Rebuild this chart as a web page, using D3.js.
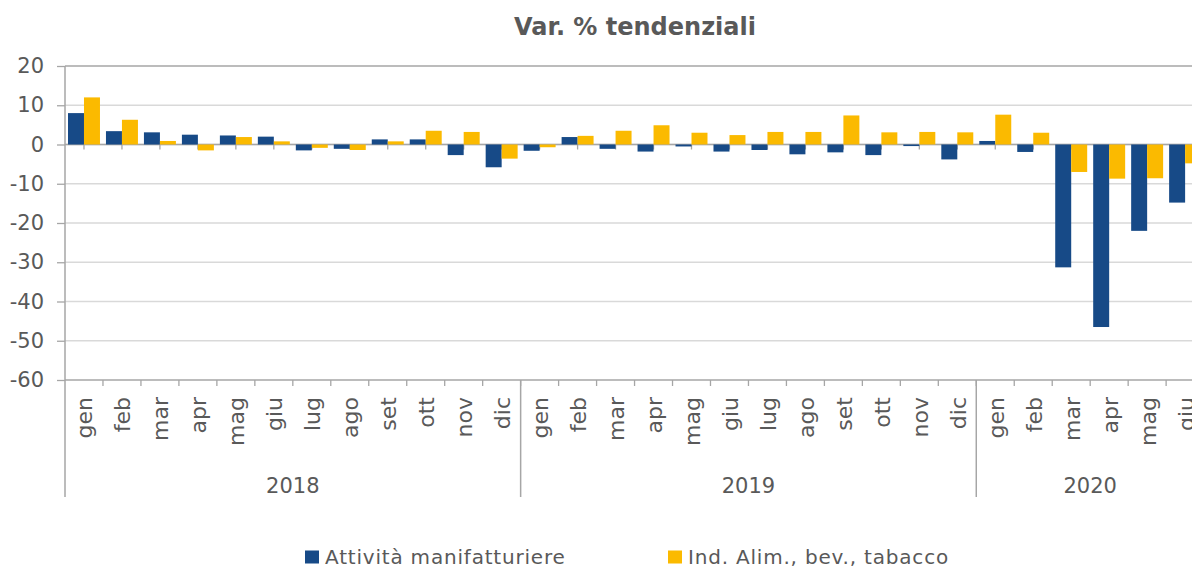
<!DOCTYPE html>
<html>
<head>
<meta charset="utf-8">
<script src="https://cdn.jsdelivr.net/npm/d3@7"></script>
<style>
  html, body { margin: 0; padding: 0; background: #fff; overflow: hidden; }
  svg { display: block; font-family: "DejaVu Sans", sans-serif; }
</style>
</head>
<body>
<svg width="1192" height="569"></svg>
<script>
// data
let years = ["2018", "2019", "2020"];
let monthsPerYear = [12, 12, 6];
let months = ["gen", "feb", "mar", "apr", "mag", "giu", "lug", "ago", "set", "ott", "nov", "dic"];
let seriesNames = ["Attività manifatturiere", "Ind. Alim., bev., tabacco"];
let manifatturiere = [
  8.0, 3.4, 3.1, 2.5, 2.3, 2.0, -1.5, -1.1, 1.3, 1.3, -2.7, -5.8,
  -1.6, 1.9, -1.1, -1.8, -0.5, -1.8, -1.4, -2.5, -2.0, -2.7, -0.4, -3.8,
  0.9, -1.9, -31.3, -46.5, -22.0, -14.8
];
let alimentari = [
  12.0, 6.3, 0.9, -1.5, 1.9, 0.8, -0.85, -1.4, 0.8, 3.5, 3.2, -3.6,
  -0.7, 2.2, 3.5, 4.9, 3.0, 2.4, 3.2, 3.2, 7.4, 3.1, 3.2, 3.1,
  7.6, 3.0, -7.0, -8.7, -8.6, -4.8
];
let yTicks = [20, 10, 0, -10, -20, -30, -40, -50, -60];
let colors = ["#174a87", "#fbba00"];

// build rows
let rows = [];
years.forEach((yr, yi) => {
  for (let m = 0; m < monthsPerYear[yi]; m++) {
    let i = rows.length;
    rows.push({ key: yr + "-" + m, year: yr, month: months[m], values: [manifatturiere[i], alimentari[i]] });
  }
});

let svg = d3.select("svg");
let plotLeft = 65, plotTop = 66, plotBottom = 380;
let step = 37.97;
let textColor = "#595959";
let axisColor = "#a6a6a6";

let x0 = d3.scaleBand()
  .domain(rows.map((d) => d.key))
  .range([plotLeft, plotLeft + step * rows.length])
  .padding(0);
let x1 = d3.scaleBand().domain([0, 1]).range([3, x0.bandwidth() - 3]).padding(0);
let y = d3.scaleLinear().domain([-60, 20]).range([plotBottom, plotTop]);

// title
svg.append("text")
  .attr("x", 635).attr("y", 35)
  .attr("text-anchor", "middle")
  .attr("font-size", 24).attr("font-weight", "bold")
  .attr("fill", textColor)
  .text("Var. % tendenziali");

// gridlines
svg.append("g").selectAll("line")
  .data(yTicks.filter((t) => t !== 20 && t !== -60))
  .enter().append("line")
  .attr("x1", plotLeft).attr("x2", 1192)
  .attr("y1", (d) => y(d)).attr("y2", (d) => y(d))
  .attr("stroke", "#d9d9d9").attr("stroke-width", 1.3);

// top border line
svg.append("line")
  .attr("x1", plotLeft).attr("x2", 1192)
  .attr("y1", y(20)).attr("y2", y(20))
  .attr("stroke", axisColor).attr("stroke-width", 1.6);

// y axis (plain hyphen for negatives, like the original)
let yAxis = svg.append("g")
  .attr("transform", "translate(" + plotLeft + ",0)")
  .call(d3.axisLeft(y).tickValues(yTicks).tickFormat((d) => String(d)).tickSize(8).tickPadding(13));
yAxis.select(".domain").remove();
yAxis.selectAll(".tick line").attr("stroke", axisColor).attr("stroke-width", 1.3);
yAxis.selectAll(".tick text")
  .attr("font-size", 21).attr("fill", textColor)
  .attr("font-family", "'DejaVu Sans', sans-serif");

// zero line with small ticks at category centres
svg.append("line")
  .attr("x1", plotLeft).attr("x2", 1192)
  .attr("y1", y(0)).attr("y2", y(0))
  .attr("stroke", axisColor).attr("stroke-width", 1.5);
svg.append("g").selectAll("line")
  .data(rows)
  .enter().append("line")
  .attr("x1", (d) => x0(d.key) + x0.bandwidth() / 2)
  .attr("x2", (d) => x0(d.key) + x0.bandwidth() / 2)
  .attr("y1", y(0)).attr("y2", y(0) + 5)
  .attr("stroke", axisColor).attr("stroke-width", 1.3);

// bars
let groups = svg.append("g").selectAll("g")
  .data(rows)
  .enter().append("g")
  .attr("transform", (d) => "translate(" + x0(d.key) + ",0)");
groups.selectAll("rect")
  .data((d) => d.values.map((v, i) => ({ v: v, i: i })))
  .enter().append("rect")
  .attr("x", (d) => x1(d.i))
  .attr("width", x1.bandwidth())
  .attr("y", (d) => y(Math.max(0, d.v)))
  .attr("height", (d) => Math.abs(y(d.v) - y(0)))
  .attr("fill", (d) => colors[d.i]);

// bottom axis line
svg.append("line")
  .attr("x1", plotLeft).attr("x2", 1192)
  .attr("y1", plotBottom).attr("y2", plotBottom)
  .attr("stroke", axisColor).attr("stroke-width", 1.6);

// vertical axis line down through category area
svg.append("line")
  .attr("x1", plotLeft).attr("x2", plotLeft)
  .attr("y1", plotTop).attr("y2", 497)
  .attr("stroke", axisColor).attr("stroke-width", 1.5);

// month ticks at category boundaries
svg.append("g").selectAll("line")
  .data(rows.slice(1))
  .enter().append("line")
  .attr("x1", (d) => x0(d.key)).attr("x2", (d) => x0(d.key))
  .attr("y1", plotBottom).attr("y2", plotBottom + 6)
  .attr("stroke", axisColor).attr("stroke-width", 1.3);

// year separators
let yearStart = [];
let acc = 0;
years.forEach((yr, i) => { yearStart.push(acc); acc += monthsPerYear[i]; });
svg.append("g").selectAll("line")
  .data(years.slice(1))
  .enter().append("line")
  .attr("x1", (d, i) => x0(rows[yearStart[i + 1]].key))
  .attr("x2", (d, i) => x0(rows[yearStart[i + 1]].key))
  .attr("y1", plotBottom).attr("y2", 497)
  .attr("stroke", axisColor).attr("stroke-width", 1.5);

// month labels (rotated)
svg.append("g").selectAll("text")
  .data(rows)
  .enter().append("text")
  .attr("transform", (d) => "translate(" + (x0(d.key) + x0.bandwidth() / 2 + 1) + "," + (plotBottom + 17) + ") rotate(-90)")
  .attr("text-anchor", "end")
  .attr("dominant-baseline", "central")
  .attr("font-size", 22).attr("fill", textColor)
  .text((d) => d.month);

// year labels
svg.append("g").selectAll("text")
  .data(years)
  .enter().append("text")
  .attr("x", (d, i) => {
    let a = x0(rows[yearStart[i]].key);
    let b = a + monthsPerYear[i] * x0.step();
    return (a + b) / 2;
  })
  .attr("y", 493)
  .attr("text-anchor", "middle")
  .attr("font-size", 21).attr("fill", textColor)
  .text((d) => d);

// legend
let legendX = [305, 668];
let legend = svg.append("g").selectAll("g")
  .data(seriesNames)
  .enter().append("g")
  .attr("transform", (d, i) => "translate(" + legendX[i] + ",550.5)");
legend.append("rect")
  .attr("width", 14).attr("height", 13)
  .attr("fill", (d, i) => colors[i]);
legend.append("text")
  .attr("x", 20).attr("y", 13.5)
  .attr("font-size", 20).attr("letter-spacing", 0.8)
  .attr("fill", textColor)
  .text((d) => d);
</script>
</body>
</html>
